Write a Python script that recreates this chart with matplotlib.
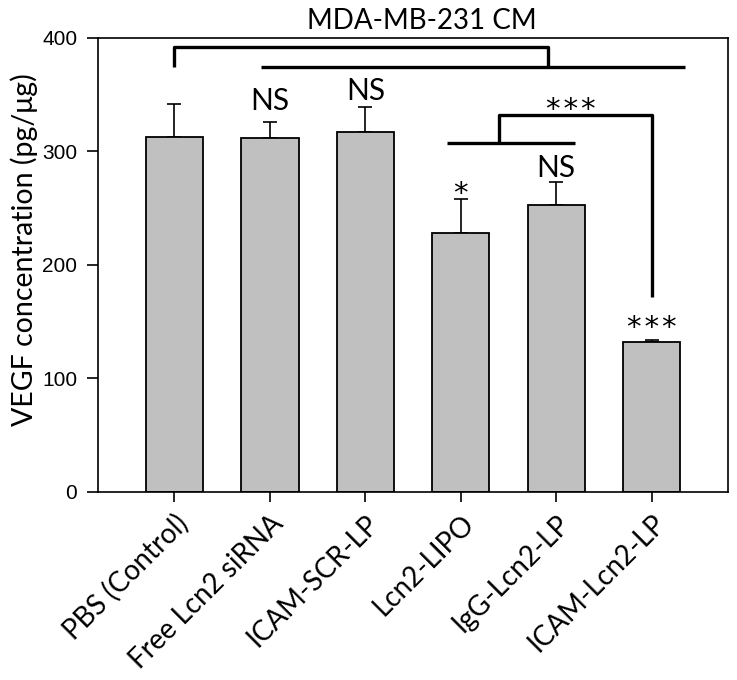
import matplotlib.pyplot as plt
import numpy as np

groups = ["PBS (Control)", "Free Lcn2 siRNA", "ICAM-SCR-LP",
          "Lcn2-LIPO", "IgG-Lcn2-LP", "ICAM-Lcn2-LP"]
vegf = [313, 312, 317, 228, 253, 132]
vegf_err = [29, 14, 22, 30, 20, 2]
marks = ["", "NS", "NS", "*", "NS", "***"]
mark_y = [0, 336, 345, 255, 277, 137]

fig = plt.figure(figsize=(7.37, 6.8), dpi=100)
ax = fig.add_axes([0.133, 0.2765, 0.855, 0.668])

x = np.arange(len(groups))
ax.bar(x, vegf, width=0.6, color="#c0c0c0", edgecolor="black", linewidth=1.3, zorder=2)
ax.errorbar(x, vegf, yerr=[np.zeros(len(x)), vegf_err], fmt="none",
            ecolor="black", elinewidth=1.2, capsize=5, capthick=1.2, zorder=1)

ax.set_xlim(-0.8, 5.8)
ax.set_ylim(0, 400)
ax.set_yticks([0, 100, 200, 300, 400])
ax.set_xticks(x)
ax.set_xticklabels(groups, rotation=45, ha="right", rotation_mode="anchor",
                   fontsize=20, family="Lato")
ax.tick_params(axis="y", direction="out", length=8, width=1.2, labelsize=15, pad=7)
ax.tick_params(axis="x", direction="out", length=7, width=1.2, pad=6)
for lab in ax.get_yticklabels():
    lab.set_family("Liberation Sans")
for sp in ax.spines.values():
    sp.set_linewidth(1.2)
ax.set_ylabel("VEGF concentration (pg/\u03bcg)", fontsize=20.5, family="Lato")
ax.yaxis.set_label_coords(-0.095, 0.533)


def stars(m):
    # spread the asterisks a little, as in the original figure
    return "\u200a".join(m)


# significance marks above bars
for xi, m, my in zip(x, marks, mark_y):
    if not m:
        continue
    if m == "NS":
        ax.text(xi, my, m, ha="center", va="baseline", fontsize=21.5, family="Lato")
    else:
        ax.text(xi, my, stars(m), ha="center", va="baseline", fontsize=21,
                family="DejaVu Sans")

lw = 2.4
kw = dict(color="black", lw=lw, solid_joinstyle="round", solid_capstyle="butt", clip_on=False)
# top comparison bracket
ax.plot([0, 0, 3.91, 3.91], [374, 392, 392, 374], **kw)
ax.plot([0.91, 5.35], [374, 374], **kw)
# lower bracket
ax.plot([2.86, 4.20], [307, 307], **kw)
ax.plot([3.40, 3.40, 5.0, 5.0], [307, 332, 332, 172], **kw)
ax.text(4.15, 329, stars("***"), ha="center", va="baseline", fontsize=21, family="DejaVu Sans")

fig.text(0.573, 0.958, "MDA-MB-231 CM", ha="center", va="baseline", fontsize=20, family="Lato")

fig.savefig("out.png", dpi=100)
